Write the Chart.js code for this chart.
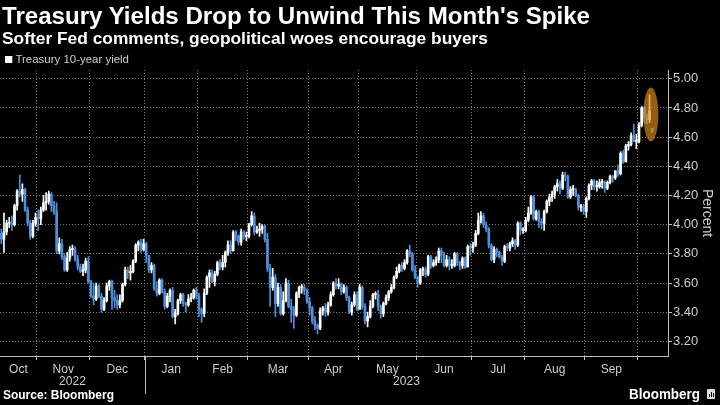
<!DOCTYPE html>
<html>
<head>
<meta charset="utf-8">
<script src="https://cdn.jsdelivr.net/npm/chart.js@4.4.0/dist/chart.umd.min.js"></script>
<style>
  html, body { margin: 0; padding: 0; background: #000; }
  #wrap { position: relative; width: 720px; height: 405px; overflow: hidden; background: #000;
          font-family: "Liberation Sans", Arial, sans-serif; }
  #chart { position: absolute; left: 0; top: 0; }
  .txt { position: absolute; white-space: nowrap; transform-origin: 0 0; color: #fff; }
  #title { left: 2px; top: 3px; font-size: 23px; font-weight: bold; }
  #subtitle { left: 2px; top: 29px; font-size: 17px; font-weight: bold; }
  #legend { left: 5px; top: 53px; font-size: 11px; color: #ccc; }
  #legend i { display: inline-block; width: 7px; height: 7px; background: #fff; margin-right: 3px; }
  #source { left: 3px; top: 388px; font-size: 12px; font-weight: bold; }
  #logo { left: 629px; top: 386px; font-size: 14px; font-weight: bold; }
  #logoIcon { position: absolute; left: 707px; top: 389px; width: 8px; height: 10px; background: #ddd; border-radius: 1px; }
  #logoIcon b { position: absolute; bottom: 2px; width: 1px; background: #000; }
</style>
</head>
<body>
<div id="wrap">
  <canvas id="chart" width="720" height="405"></canvas>
  <div class="txt" id="title">Treasury Yields Drop to Unwind This Month's Spike</div>
  <div class="txt" id="subtitle">Softer Fed comments, geopolitical woes encourage buyers</div>
  <div class="txt" id="legend"><i></i>Treasury 10-year yield</div>
  <div class="txt" id="source">Source: Bloomberg</div>
  <div class="txt" id="logo">Bloomberg</div>
  <div id="logoIcon"><b style="left:2px;height:3px"></b><b style="left:4px;height:5px"></b><b style="left:6px;height:4px"></b></div>
</div>
<script>
// trading months shown (last one is the partial Oct 2023, no label)
const monthLabels = ["Oct", "Nov", "Dec", "Jan", "Feb", "Mar", "Apr", "May", "Jun", "Jul", "Aug", "Sep", ""];
const monthDays = [14, 20, 21, 20, 19, 23, 19, 22, 21, 20, 23, 20, 6];
const yearLabels = ["2022", "2023"];
const yearMonthCount = [3, 10];
const yTicks = [3.2, 3.4, 3.6, 3.8, 4.0, 4.2, 4.4, 4.6, 4.8, 5.0];

// daily candles, Oct 12 2022 -> Oct 10 2023 (one line per month)
const opens = [
  3.94,3.90,3.95,4.01,4.01,4.00,4.13,4.23,4.21,4.24,4.10,4.01,3.92,4.01,
  4.05,4.04,4.10,4.15,4.16,4.21,4.13,4.09,3.82,3.87,3.78,3.69,3.77,3.83,3.83,3.76,3.71,3.68,3.69,3.75,
  3.61,3.51,3.49,3.58,3.51,3.42,3.48,3.58,3.61,3.50,3.48,3.45,3.48,3.59,3.69,3.67,3.68,3.75,3.86,3.88,3.83,
  3.87,3.79,3.69,3.72,3.56,3.53,3.62,3.54,3.44,3.51,3.55,3.37,3.39,3.48,3.52,3.46,3.45,3.49,3.50,3.55,
  3.51,3.42,3.39,3.53,3.64,3.67,3.61,3.66,3.74,3.71,3.74,3.81,3.86,3.82,3.95,3.92,3.88,3.95,3.92,
  3.92,4.00,4.06,3.95,3.96,3.97,3.99,3.90,3.70,3.57,3.64,3.46,3.57,3.39,3.48,3.60,3.44,3.42,3.38,3.53,3.57,3.57,3.55,
  3.47,3.43,3.34,3.31,3.29,3.41,3.43,3.40,3.45,3.52,3.60,3.58,3.59,3.54,3.57,3.50,3.40,3.45,3.52,
  3.42,3.57,3.44,3.34,3.37,3.44,3.52,3.52,3.44,3.39,3.46,3.50,3.54,3.57,3.64,3.68,3.72,3.70,3.74,3.82,3.80,3.69,
  3.64,3.60,3.69,3.69,3.66,3.78,3.72,3.74,3.76,3.82,3.79,3.72,3.76,3.72,3.72,3.80,3.74,3.72,3.77,3.71,3.85,
  3.84,3.86,3.94,4.03,4.06,4.00,3.97,3.86,3.76,3.83,3.81,3.78,3.75,3.85,3.84,3.87,3.89,3.86,4.01,3.96,
  3.96,4.03,4.08,4.19,4.04,4.09,4.02,4.01,4.09,4.16,4.19,4.21,4.26,4.28,4.25,4.34,4.33,4.19,4.24,4.24,4.20,4.12,4.12,
  4.09,4.18,4.27,4.30,4.26,4.26,4.29,4.29,4.25,4.29,4.33,4.32,4.37,4.35,4.49,4.43,4.54,4.55,4.61,4.57,
  4.57,4.68,4.80,4.73,4.72,4.66
];
const highs = [
  3.97,4.08,4.03,4.05,4.06,4.14,4.24,4.34,4.28,4.25,4.12,4.03,4.03,4.08,
  4.10,4.12,4.20,4.22,4.23,4.22,4.16,4.15,3.91,3.90,3.80,3.81,3.85,3.86,3.85,3.79,3.73,3.73,3.77,3.78,
  3.62,3.60,3.60,3.59,3.53,3.50,3.60,3.62,3.62,3.55,3.52,3.52,3.60,3.71,3.71,3.72,3.76,3.87,3.89,3.90,3.90,
  3.88,3.79,3.74,3.73,3.61,3.63,3.63,3.56,3.53,3.56,3.57,3.42,3.49,3.53,3.53,3.47,3.52,3.53,3.56,3.57,
  3.53,3.43,3.56,3.65,3.69,3.69,3.68,3.75,3.76,3.79,3.82,3.89,3.89,3.96,3.96,3.93,3.97,3.96,3.95,
  4.01,4.09,4.08,3.99,4.01,4.00,4.00,3.94,3.73,3.70,3.66,3.60,3.59,3.54,3.63,3.62,3.49,3.44,3.54,3.58,3.59,3.59,3.56,
  3.50,3.44,3.37,3.32,3.43,3.44,3.46,3.47,3.54,3.61,3.63,3.63,3.60,3.59,3.58,3.51,3.47,3.54,3.54,
  3.59,3.58,3.46,3.40,3.48,3.53,3.54,3.55,3.45,3.47,3.52,3.55,3.59,3.65,3.71,3.73,3.74,3.76,3.83,3.86,3.81,3.72,
  3.65,3.70,3.71,3.71,3.79,3.79,3.76,3.78,3.84,3.84,3.81,3.79,3.78,3.76,3.81,3.81,3.75,3.78,3.78,3.86,3.87,
  3.88,3.96,4.08,4.09,4.08,4.02,3.98,3.87,3.85,3.84,3.82,3.79,3.86,3.87,3.88,3.91,3.90,4.02,4.02,3.98,
  4.05,4.12,4.20,4.20,4.10,4.10,4.04,4.10,4.17,4.21,4.23,4.27,4.31,4.30,4.36,4.36,4.34,4.26,4.27,4.25,4.21,4.14,4.14,
  4.19,4.28,4.31,4.31,4.30,4.31,4.31,4.30,4.30,4.34,4.34,4.37,4.41,4.50,4.51,4.55,4.57,4.63,4.69,4.62,
  4.70,4.81,4.81,4.76,4.89,4.66
];
const lows = [
  3.87,3.81,3.93,3.98,3.96,3.99,4.10,4.19,4.16,4.09,3.99,3.90,3.91,3.99,
  3.96,4.00,4.09,4.10,4.14,4.09,4.07,3.80,3.80,3.76,3.68,3.68,3.75,3.79,3.75,3.69,3.67,3.65,3.67,3.60,
  3.50,3.45,3.48,3.50,3.40,3.41,3.47,3.55,3.42,3.43,3.42,3.43,3.47,3.58,3.63,3.62,3.67,3.74,3.82,3.81,3.82,
  3.74,3.67,3.67,3.55,3.51,3.52,3.53,3.42,3.43,3.47,3.36,3.32,3.38,3.46,3.44,3.40,3.44,3.47,3.49,3.49,
  3.37,3.33,3.37,3.52,3.57,3.60,3.58,3.65,3.69,3.69,3.71,3.79,3.80,3.82,3.89,3.86,3.86,3.90,3.89,
  3.91,3.99,3.93,3.94,3.92,3.94,3.88,3.68,3.44,3.55,3.37,3.44,3.38,3.38,3.47,3.43,3.33,3.29,3.37,3.50,3.53,3.52,3.46,
  3.38,3.32,3.28,3.25,3.28,3.38,3.37,3.38,3.44,3.51,3.56,3.56,3.52,3.53,3.48,3.39,3.38,3.44,3.41,
  3.42,3.42,3.32,3.30,3.36,3.43,3.49,3.41,3.36,3.37,3.45,3.48,3.53,3.56,3.63,3.67,3.68,3.69,3.73,3.78,3.68,3.63,
  3.57,3.59,3.65,3.64,3.65,3.70,3.71,3.72,3.74,3.74,3.71,3.71,3.69,3.70,3.71,3.72,3.69,3.70,3.70,3.71,3.79,
  3.81,3.85,3.93,4.01,3.98,3.95,3.84,3.75,3.74,3.78,3.77,3.72,3.74,3.82,3.82,3.85,3.83,3.85,3.93,3.94,
  3.95,4.02,4.07,4.03,4.03,3.98,3.97,3.96,4.08,4.13,4.16,4.18,4.23,4.21,4.24,4.30,4.18,4.18,4.20,4.19,4.10,4.09,4.07,
  4.05,4.17,4.24,4.24,4.23,4.25,4.25,4.22,4.24,4.28,4.29,4.31,4.33,4.34,4.42,4.43,4.51,4.54,4.57,4.52,
  4.56,4.67,4.70,4.69,4.70,4.63
];
const closes = [
  3.90,3.95,4.01,4.01,4.00,4.13,4.23,4.21,4.24,4.10,4.01,3.92,4.01,4.05,
  4.04,4.10,4.15,4.16,4.21,4.13,4.09,3.82,3.87,3.78,3.69,3.77,3.83,3.83,3.76,3.71,3.68,3.69,3.75,3.61,
  3.51,3.49,3.58,3.51,3.42,3.48,3.58,3.61,3.50,3.48,3.45,3.48,3.59,3.69,3.67,3.68,3.75,3.86,3.88,3.83,3.87,
  3.79,3.69,3.72,3.56,3.53,3.62,3.54,3.44,3.51,3.55,3.37,3.39,3.48,3.52,3.46,3.45,3.49,3.50,3.55,3.51,
  3.42,3.39,3.53,3.64,3.67,3.61,3.66,3.74,3.71,3.74,3.81,3.86,3.82,3.95,3.92,3.88,3.95,3.92,3.92,
  4.00,4.06,3.95,3.96,3.97,3.99,3.90,3.70,3.57,3.64,3.46,3.57,3.39,3.48,3.60,3.44,3.42,3.38,3.53,3.57,3.57,3.55,3.47,
  3.43,3.34,3.31,3.29,3.41,3.43,3.40,3.45,3.52,3.60,3.58,3.59,3.54,3.57,3.50,3.40,3.45,3.52,3.42,
  3.57,3.44,3.34,3.37,3.44,3.52,3.52,3.44,3.39,3.46,3.50,3.54,3.57,3.64,3.68,3.72,3.70,3.74,3.82,3.80,3.69,3.64,
  3.60,3.69,3.69,3.66,3.78,3.72,3.74,3.76,3.82,3.79,3.72,3.76,3.72,3.72,3.80,3.74,3.72,3.77,3.71,3.85,3.84,
  3.86,3.94,4.03,4.06,4.00,3.97,3.86,3.76,3.83,3.81,3.78,3.75,3.85,3.84,3.87,3.89,3.86,4.01,3.96,3.96,
  4.03,4.08,4.19,4.04,4.09,4.02,4.01,4.09,4.16,4.19,4.21,4.26,4.28,4.25,4.34,4.33,4.19,4.24,4.24,4.20,4.12,4.12,4.09,
  4.18,4.27,4.30,4.26,4.26,4.29,4.29,4.25,4.29,4.33,4.32,4.37,4.35,4.49,4.43,4.54,4.55,4.61,4.57,4.57,
  4.68,4.80,4.73,4.72,4.78,4.64
];

// the circled spike (day indices + yield range)
const highlightDays = [246, 247];
const highlightRange = [4.57, 4.94];

const xMin = -0.5, xMax = 253;
const UP = "#ffffff", DOWN = "#4f8fdb", GRID = "#7a7a7a", AXIS = "#bbbbbb", TEXT = "#cccccc";

// month boundaries (grid) and month centres (labels)
let monthStart = [], n = 0;
monthDays.forEach(d => { monthStart.push(n); n += d; });
const boundaries = monthStart.slice(1).map(v => v - 0.5);
const labelAt = new Map();
monthStart.forEach((v, i) => {
  let a = Math.max(v - 0.5, xMin), b = Math.min(v + monthDays[i] - 0.5, xMax);
  labelAt.set((a + b) / 2, monthLabels[i]);
});
const xTicks = boundaries.concat([...labelAt.keys()]).sort((a, b) => a - b);
const isBoundary = c => c.tick && boundaries.includes(c.tick.value);
const yearEdge = monthStart[yearMonthCount[0]] - 0.5;

const upOrDown = c => closes[c.dataIndex] >= opens[c.dataIndex] ? UP : DOWN;

const extras = {
  id: "extras",
  afterDatasetsDraw(chart) {
    const { ctx, scales: { x, y } } = chart;
    const cx = (x.getPixelForValue(highlightDays[0]) + x.getPixelForValue(highlightDays[1])) / 2;
    const y1 = y.getPixelForValue(highlightRange[1]), y2 = y.getPixelForValue(highlightRange[0]);
    ctx.save();
    ctx.fillStyle = "rgba(225,140,25,0.66)";
    ctx.beginPath();
    ctx.ellipse(cx, (y1 + y2) / 2, 7.5, (y2 - y1) / 2, 0, 0, Math.PI * 2);
    ctx.fill();
    ctx.restore();
  },
  afterDraw(chart) {
    const { ctx, chartArea, scales: { x } } = chart;
    const sepX = Math.round(x.getPixelForValue(yearEdge)) + 0.5;
    ctx.save();
    ctx.strokeStyle = AXIS;
    ctx.lineWidth = 1;
    ctx.beginPath();
    ctx.moveTo(sepX, chartArea.bottom);
    ctx.lineTo(sepX, chartArea.bottom + 38);
    ctx.stroke();
    ctx.fillStyle = TEXT;
    ctx.font = "12px 'Liberation Sans', Arial, sans-serif";
    ctx.textAlign = "center";
    ctx.textBaseline = "middle";
    ctx.fillText(yearLabels[0], x.getPixelForValue((xMin + yearEdge) / 2), chartArea.bottom + 26);
    ctx.fillText(yearLabels[1], x.getPixelForValue((yearEdge + xMax) / 2), chartArea.bottom + 26);
    ctx.restore();
  }
};

new Chart(document.getElementById("chart"), {
  type: "bar",
  data: {
    datasets: [
      {
        label: "body",
        data: opens.map((o, i) => ({ x: i, y: [o, closes[i]] })),
        backgroundColor: upOrDown,
        barThickness: 2,
        minBarLength: 1,
        grouped: false,
        order: 0
      },
      {
        label: "wick",
        data: lows.map((l, i) => ({ x: i, y: [l, highs[i]] })),
        backgroundColor: upOrDown,
        barThickness: 1,
        grouped: false,
        order: 1
      }
    ]
  },
  options: {
    responsive: false,
    animation: false,
    devicePixelRatio: 1,
    layout: { padding: { top: 70, bottom: 8, left: 0, right: 0 } },
    plugins: { legend: { display: false }, tooltip: { enabled: false } },
    scales: {
      x: {
        type: "linear",
        offset: false,
        min: xMin,
        max: xMax,
        afterBuildTicks: sc => { sc.ticks = xTicks.map(v => ({ value: v })); },
        afterFit: sc => { sc.height = 41; },
        grid: {
          offset: false,
          color: c => isBoundary(c) ? GRID : "rgba(0,0,0,0)",
          tickColor: c => isBoundary(c) ? AXIS : "rgba(0,0,0,0)",
          tickLength: 4
        },
        border: { color: AXIS, dash: [1, 2] },
        ticks: {
          autoSkip: false, maxRotation: 0, color: TEXT, padding: 2,
          font: { size: 12, family: "'Liberation Sans', Arial, sans-serif" },
          callback: v => labelAt.get(v) || ""
        }
      },
      y: {
        position: "right",
        min: 3.1,
        max: 5.06,
        afterBuildTicks: sc => { sc.ticks = yTicks.map(v => ({ value: v })); },
        afterFit: sc => { sc.width = 52; },
        grid: { color: GRID, tickColor: AXIS, tickLength: 4 },
        border: { color: AXIS, dash: [1, 2] },
        ticks: {
          color: TEXT, padding: 1,
          font: { size: 13, family: "'Liberation Sans', Arial, sans-serif" },
          callback: v => v.toFixed(2)
        },
        title: {
          display: true, text: "Percent", color: TEXT, padding: { top: 5, bottom: 0 },
          font: { size: 14, family: "'Liberation Sans', Arial, sans-serif" }
        }
      }
    }
  },
  plugins: [extras]
});

// squeeze the header/footer text to the widths seen in the original
function fitWidth(id, w) {
  const el = document.getElementById(id);
  const cur = el.getBoundingClientRect().width;
  el.style.transform = "scaleX(" + (w / cur) + ")";
}
fitWidth("title", 588);
fitWidth("subtitle", 486);
fitWidth("legend", 124);
fitWidth("source", 111);
fitWidth("logo", 71);
</script>
</body>
</html>
